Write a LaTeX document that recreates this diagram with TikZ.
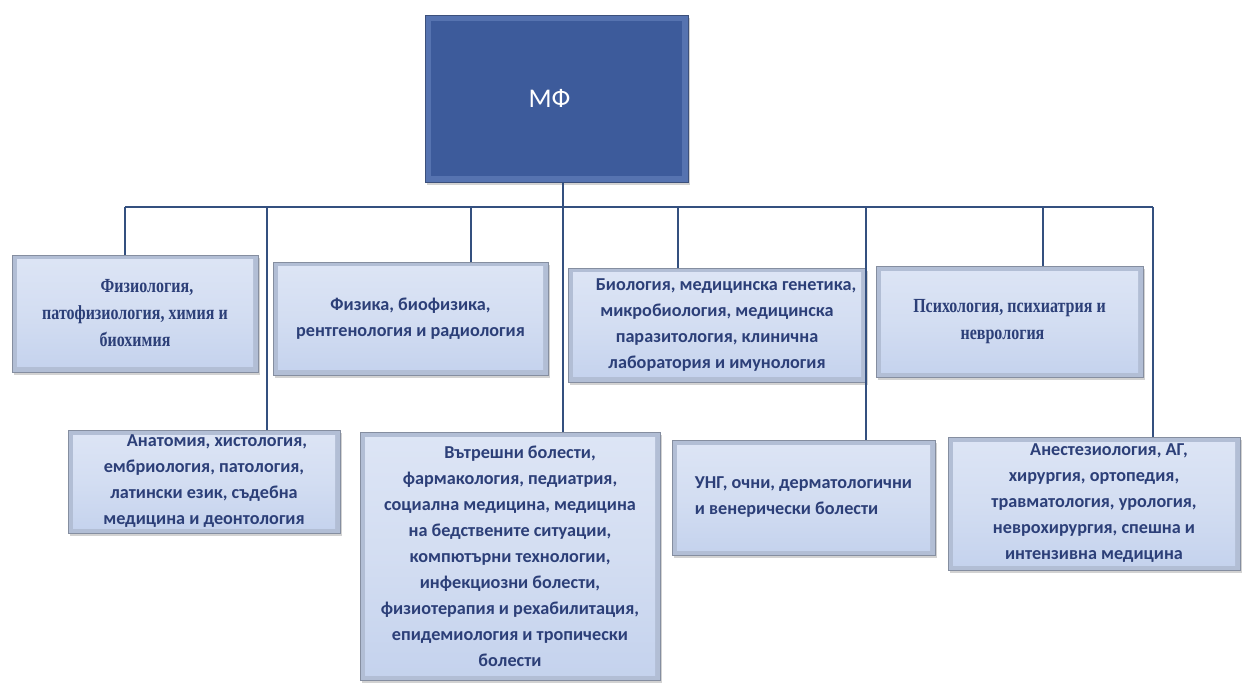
\documentclass[tikz,border=0pt]{standalone}
\usepackage{fontspec}
\setmainfont{Carlito}
\newfontfamily\serifnarrow[FakeStretch=0.8]{Liberation Serif}
\usetikzlibrary{shadows,calc}
\definecolor{linec}{HTML}{34507F}
\definecolor{txtc}{HTML}{2C3F78}
\definecolor{tileedge}{HTML}{B2BED5}
\definecolor{tileinA}{HTML}{DDE5F5}
\definecolor{tileinB}{HTML}{C4D2ED}
\definecolor{topfill}{HTML}{3D5B9B}
\definecolor{toprim}{HTML}{5673B0}
\tikzset{
  x=1pt, y=-1pt,
  tile/.style={rectangle, fill=tileedge, draw=tileedge!75!black, line width=0.5pt,
    drop shadow={shadow xshift=1.5pt, shadow yshift=-3pt, fill=gray!50, opacity=0.7},
    path picture={\fill[top color=tileinA, bottom color=tileinB, middle color=tileinA!60!tileinB]
      ($(path picture bounding box.south west)+(5pt,5pt)$) rectangle
      ($(path picture bounding box.north east)+(-5pt,-5pt)$);},
    text=txtc, font=\fontsize{18.2}{26}\selectfont\bfseries, align=center,
    inner sep=0pt},
  serifbox/.style={font=\serifnarrow\fontsize{20}{27}\selectfont\bfseries},
  headbox/.style={rectangle, fill=toprim, draw=toprim!70!black, line width=0.6pt,
    drop shadow={shadow xshift=1.5pt, shadow yshift=-3pt, fill=gray!50, opacity=0.7},
    path picture={\fill[topfill]
      ($(path picture bounding box.south west)+(6pt,6pt)$) rectangle
      ($(path picture bounding box.north east)+(-6pt,-6pt)$);},
    text=white, font=\fontsize{27}{30}\selectfont, inner sep=0pt},
  conn/.style={draw=linec, line width=1.1pt}
}
\begin{document}
\begin{tikzpicture}
\useasboundingbox (0,0) rectangle (1253,684);
% head
\node[headbox, minimum width=263pt, minimum height=167pt] (mf) at (556.5,98.5) {\hspace*{-14pt}МФ};
% tiles
\node[tile, serifbox, minimum width=246pt, minimum height=117pt] (fiz) at (135,313.5)
  {\hspace*{24pt}Физиология,\\ патофизиология, химия и\\ биохимия};
\node[tile, minimum width=275pt, minimum height=113pt] (fizika) at (410.5,318.5)
  {Физика, биофизика,\\ рентгенология и радиология};
\node[tile, minimum width=298pt, minimum height=114pt] (bio) at (717,325)
  {\hspace*{18pt}Биология, медицинска генетика,\\ микробиология, медицинска\\ паразитология, клинична\\ лаборатория и имунология};
\node[tile, serifbox, minimum width=267pt, minimum height=111pt] (psi) at (1009.5,322)
  {Психология, психиатрия и\\ неврология\hspace*{14pt}};
\node[tile, minimum width=272pt, minimum height=103pt] (anat) at (204,481.5)
  {\hspace*{26pt}Анатомия, хистология,\\ ембриология, патология,\\ латински език, съдебна\\ медицина и деонтология};
\node[tile, minimum width=300pt, minimum height=248pt] (vat) at (510,556)
  {\hspace*{20pt}Вътрешни болести,\\ фармакология, педиатрия,\\ социална медицина, медицина\\ на бедствените ситуации,\\ компютърни технологии,\\ инфекциозни болести,\\ физиотерапия и рехабилитация,\\ епидемиология и тропически\\ болести};
\node[tile, minimum width=263pt, minimum height=115pt, align=left] (ung) at (803.5,497.5)
  {УНГ, очни, дерматологични\\ и венерически болести};
\node[tile, minimum width=292pt, minimum height=133pt] (anes) at (1094,503.5)
  {\hspace*{30pt}Анестезиология, АГ,\\ хирургия, ортопедия,\\ травматология, урология,\\ неврохирургия, спешна и\\ интензивна медицина};
% bus
\coordinate (busL) at (125,207);
\coordinate (busR) at (1153,207);
\draw[conn] (busL) -- (busR);
\draw[conn] (mf.south -| 563,0) -- (vat.north -| 563,0);
\draw[conn] (busL) -- (fiz.north -| busL);
\draw[conn] (267,207) -- (anat.north -| 267,0);
\draw[conn] (471,207) -- (fizika.north -| 471,0);
\draw[conn] (678,207) -- (bio.north -| 678,0);
\draw[conn] (866,207) -- (ung.north -| 866,0);
\draw[conn] (1043,207) -- (psi.north -| 1043,0);
\draw[conn] (busR) -- (anes.north -| busR);
\end{tikzpicture}
\end{document}
